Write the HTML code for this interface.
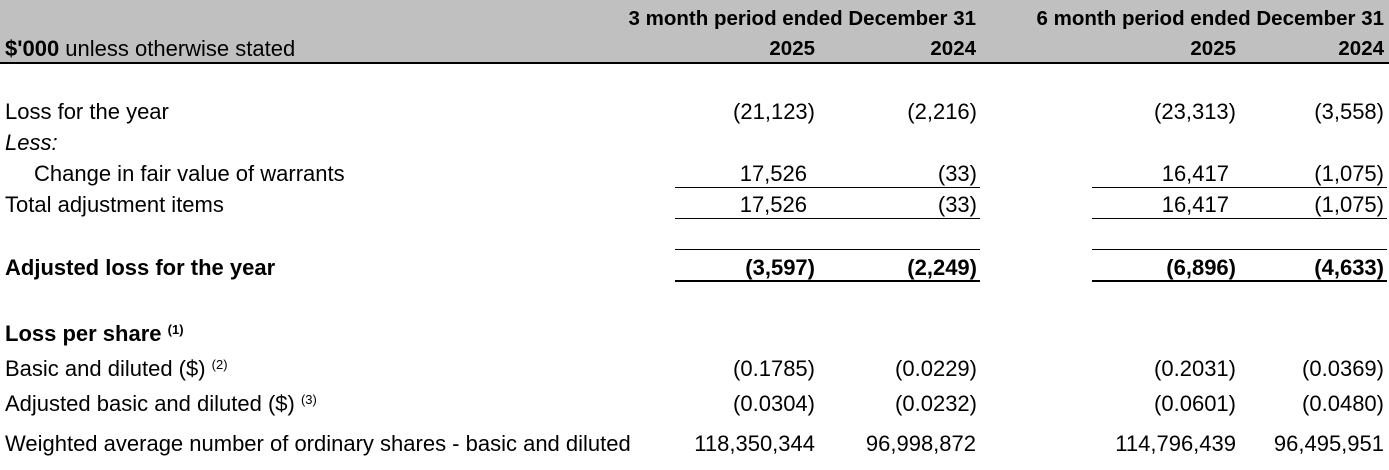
<!DOCTYPE html>
<html><head><meta charset="utf-8"><style>
body{margin:0;width:1389px;height:470px;background:#fff;position:relative;overflow:hidden;font-family:"Liberation Sans",sans-serif;font-size:22px;color:#000}
.t{position:absolute;line-height:24px;white-space:nowrap}
.r{text-align:right}
.b{font-weight:bold}
.h{font-size:20.5px}
.l{position:absolute;height:1px;background:#000}
sup{font-size:13px;vertical-align:7px;line-height:0}
</style></head><body>
<div style="position:absolute;left:0;top:0;width:1389px;height:62px;background:#c0c0c0"></div>
<div class="l" style="left:0;top:62px;width:1389px;height:2px"></div>
<div class="t b r h" style="left:560px;width:416px;top:7px">3 month period ended December 31</div>
<div class="t b r h" style="left:960px;width:424px;top:7px">6 month period ended December 31</div>
<div class="t" style="left:5px;top:37px"><b>$'000</b> unless otherwise stated</div>
<div class="t b r h" style="right:574px;top:37px">2025</div>
<div class="t b r h" style="right:413px;top:37px">2024</div>
<div class="t b r h" style="right:153px;top:37px">2025</div>
<div class="t b r h" style="right:5px;top:37px">2024</div>

<div class="t" style="left:5px;top:100px">Loss for the year</div>
<div class="t r" style="right:574px;top:100px">(21,123)</div>
<div class="t r" style="right:412px;top:100px">(2,216)</div>
<div class="t r" style="right:153px;top:100px">(23,313)</div>
<div class="t r" style="right:5px;top:100px">(3,558)</div>

<div class="t" style="left:5px;top:131px;font-style:italic">Less:</div>

<div class="t" style="left:34px;top:162px">Change in fair value of warrants</div>
<div class="t r" style="right:582px;top:162px">17,526</div>
<div class="t r" style="right:412px;top:162px">(33)</div>
<div class="t r" style="right:160px;top:162px">16,417</div>
<div class="t r" style="right:5px;top:162px">(1,075)</div>
<div class="l" style="left:675px;top:187px;width:305px"></div>
<div class="l" style="left:1092px;top:187px;width:295px"></div>

<div class="t" style="left:5px;top:193px">Total adjustment items</div>
<div class="t r" style="right:582px;top:193px">17,526</div>
<div class="t r" style="right:412px;top:193px">(33)</div>
<div class="t r" style="right:160px;top:193px">16,417</div>
<div class="t r" style="right:5px;top:193px">(1,075)</div>
<div class="l" style="left:675px;top:218px;width:305px"></div>
<div class="l" style="left:1092px;top:218px;width:295px"></div>
<div class="l" style="left:675px;top:249px;width:305px"></div>
<div class="l" style="left:1092px;top:249px;width:295px"></div>

<div class="t b" style="left:5px;top:256px">Adjusted loss for the year</div>
<div class="t b r" style="right:574px;top:256px">(3,597)</div>
<div class="t b r" style="right:412px;top:256px">(2,249)</div>
<div class="t b r" style="right:153px;top:256px">(6,896)</div>
<div class="t b r" style="right:5px;top:256px">(4,633)</div>
<div class="l" style="left:675px;top:280px;width:305px;height:2px"></div>
<div class="l" style="left:1092px;top:280px;width:295px;height:2px"></div>

<div class="t b" style="left:5px;top:322px">Loss per share <sup>(1)</sup></div>

<div class="t" style="left:5px;top:357px">Basic and diluted ($) <sup>(2)</sup></div>
<div class="t r" style="right:574px;top:357px">(0.1785)</div>
<div class="t r" style="right:412px;top:357px">(0.0229)</div>
<div class="t r" style="right:153px;top:357px">(0.2031)</div>
<div class="t r" style="right:5px;top:357px">(0.0369)</div>

<div class="t" style="left:5px;top:392px">Adjusted basic and diluted ($) <sup>(3)</sup></div>
<div class="t r" style="right:574px;top:392px">(0.0304)</div>
<div class="t r" style="right:412px;top:392px">(0.0232)</div>
<div class="t r" style="right:153px;top:392px">(0.0601)</div>
<div class="t r" style="right:5px;top:392px">(0.0480)</div>

<div class="t" style="left:5px;top:432px">Weighted average number of ordinary shares - basic and diluted</div>
<div class="t r" style="right:574px;top:432px">118,350,344</div>
<div class="t r" style="right:413px;top:432px">96,998,872</div>
<div class="t r" style="right:153px;top:432px">114,796,439</div>
<div class="t r" style="right:5px;top:432px">96,495,951</div>
</body></html>
